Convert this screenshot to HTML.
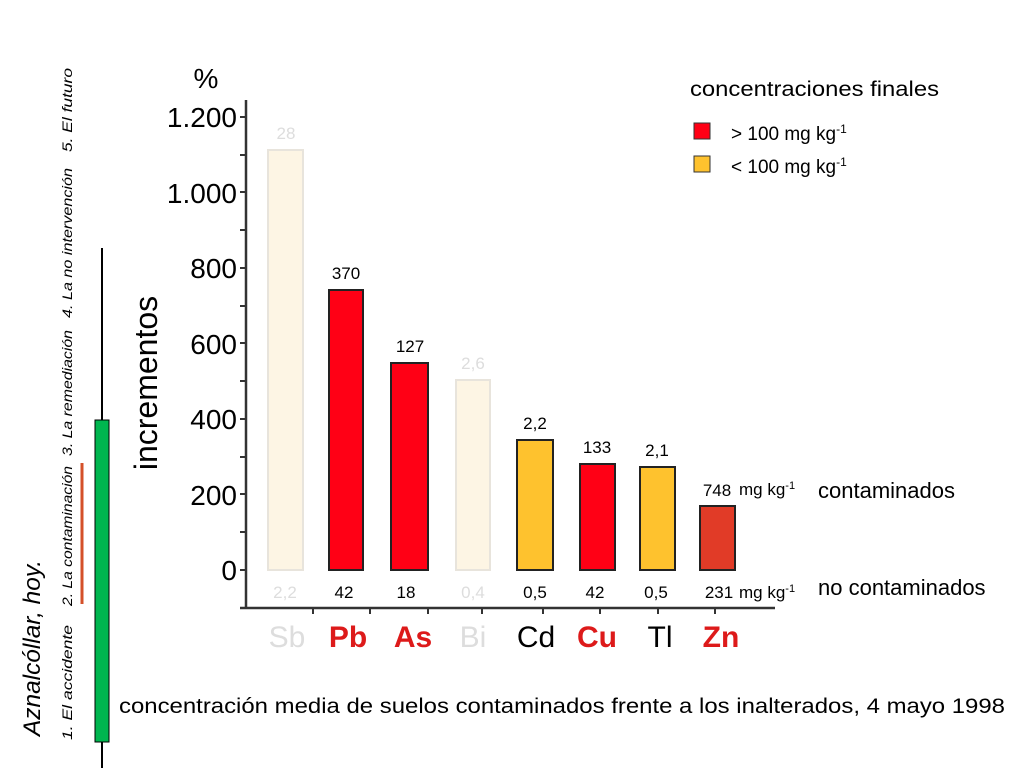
<!DOCTYPE html>
<html><head><meta charset="utf-8"><style>body{margin:0;background:#fff}svg{display:block}</style></head>
<body>
<svg width="1024" height="768" xmlns="http://www.w3.org/2000/svg" font-family="Liberation Sans, Arial, sans-serif">
<rect width="1024" height="768" fill="#fff"/>
<!-- side timeline -->
<line x1="102" y1="248" x2="102" y2="768" stroke="#000" stroke-width="2"/>
<rect x="95" y="420" width="14" height="322" fill="#00b64f" stroke="#000" stroke-width="1"/>
<line x1="82" y1="463" x2="82" y2="604" stroke="#d4502a" stroke-width="3"/>
<g font-style="italic" font-size="14" fill="#000">
<text transform="translate(72,740) rotate(-90)" textLength="115" lengthAdjust="spacingAndGlyphs">1. El accidente</text>
<text transform="translate(72,606) rotate(-90)" textLength="140" lengthAdjust="spacingAndGlyphs">2. La contaminación</text>
<text transform="translate(72,456) rotate(-90)" textLength="126" lengthAdjust="spacingAndGlyphs">3. La remediación</text>
<text transform="translate(72,318) rotate(-90)" textLength="150" lengthAdjust="spacingAndGlyphs">4. La no intervención</text>
<text transform="translate(72,152) rotate(-90)" textLength="84" lengthAdjust="spacingAndGlyphs">5. El futuro</text>
</g>
<text transform="translate(40,736) rotate(-90)" font-style="italic" font-size="24" textLength="176" lengthAdjust="spacingAndGlyphs">Aznalcóllar, hoy.</text>
<text transform="translate(157,383) rotate(-90)" font-size="32" text-anchor="middle">incrementos</text>
<text x="206" y="88" font-size="28" text-anchor="middle">%</text>
<!-- axes -->
<line x1="246" y1="100" x2="246" y2="609" stroke="#333" stroke-width="2.5"/>
<line x1="240" y1="608" x2="775" y2="608" stroke="#333" stroke-width="2.5"/>
<g stroke="#333" stroke-width="2">
<line x1="240" y1="117" x2="246" y2="117"/><line x1="240" y1="155" x2="246" y2="155"/>
<line x1="240" y1="192" x2="246" y2="192"/><line x1="240" y1="230" x2="246" y2="230"/>
<line x1="240" y1="268" x2="246" y2="268"/><line x1="240" y1="306" x2="246" y2="306"/>
<line x1="240" y1="343" x2="246" y2="343"/><line x1="240" y1="381" x2="246" y2="381"/>
<line x1="240" y1="419" x2="246" y2="419"/><line x1="240" y1="457" x2="246" y2="457"/>
<line x1="240" y1="494" x2="246" y2="494"/><line x1="240" y1="532" x2="246" y2="532"/>
<line x1="240" y1="570" x2="246" y2="570"/>
<line x1="313" y1="608" x2="313" y2="614"/><line x1="370" y1="608" x2="370" y2="614"/>
<line x1="428" y1="608" x2="428" y2="614"/><line x1="482" y1="608" x2="482" y2="614"/>
<line x1="543" y1="608" x2="543" y2="614"/><line x1="600" y1="608" x2="600" y2="614"/>
<line x1="658" y1="608" x2="658" y2="614"/><line x1="715" y1="608" x2="715" y2="614"/>
</g>
<g font-size="28" text-anchor="end">
<text x="237" y="127">1.200</text><text x="237" y="203">1.000</text>
<text x="237" y="278">800</text><text x="237" y="354">600</text>
<text x="237" y="429">400</text><text x="237" y="505">200</text>
<text x="237" y="580">0</text>
</g>
<!-- bars -->
<rect x="268" y="150" width="35" height="420" fill="#fdf5e4" stroke="#e8e4dc" stroke-width="2"/>
<rect x="329" y="290" width="34" height="280" fill="#ff0015" stroke="#222" stroke-width="2"/>
<rect x="391" y="363" width="37" height="207" fill="#ff0015" stroke="#222" stroke-width="2"/>
<rect x="456" y="380" width="34" height="190" fill="#fdf5e4" stroke="#e8e4dc" stroke-width="2"/>
<rect x="517" y="440" width="36" height="130" fill="#fec22e" stroke="#222" stroke-width="2"/>
<rect x="580" y="464" width="35" height="106" fill="#ff0015" stroke="#222" stroke-width="2"/>
<rect x="640" y="467" width="35" height="103" fill="#fec22e" stroke="#222" stroke-width="2"/>
<rect x="700" y="506" width="35" height="64" fill="#e13b27" stroke="#222" stroke-width="2"/>
<g font-size="17" text-anchor="middle">
<text x="286" y="139" fill="#ddd">28</text>
<text x="346" y="279">370</text>
<text x="410" y="352">127</text>
<text x="473" y="369" fill="#ddd">2,6</text>
<text x="535" y="429">2,2</text>
<text x="597" y="453">133</text>
<text x="657" y="456">2,1</text>
<text x="717" y="496">748</text>
<text x="285" y="598" fill="#ddd">2,2</text>
<text x="344" y="598">42</text>
<text x="406" y="598">18</text>
<text x="473" y="598" fill="#ddd">0,4</text>
<text x="535" y="598">0,5</text>
<text x="595" y="598">42</text>
<text x="656" y="598">0,5</text>
<text x="719" y="598">231</text>
</g>
<text x="739" y="495" font-size="17">mg kg<tspan font-size="11" dy="-6">-1</tspan></text>
<text x="739" y="598" font-size="17">mg kg<tspan font-size="11" dy="-6">-1</tspan></text>
<text x="818" y="498" font-size="22">contaminados</text>
<text x="818" y="595" font-size="22">no contaminados</text>
<g font-size="30" text-anchor="middle">
<text x="287" y="647" fill="#ddd">Sb</text>
<text x="348" y="647" fill="#dd1a1a" font-weight="bold">Pb</text>
<text x="413" y="647" fill="#dd1a1a" font-weight="bold">As</text>
<text x="473" y="647" fill="#ddd">Bi</text>
<text x="536" y="647">Cd</text>
<text x="597" y="647" fill="#dd1a1a" font-weight="bold">Cu</text>
<text x="660" y="647">Tl</text>
<text x="721" y="647" fill="#dd1a1a" font-weight="bold">Zn</text>
</g>
<text x="119" y="713" font-size="21" textLength="886" lengthAdjust="spacingAndGlyphs">concentración media de suelos contaminados frente a los inalterados, 4 mayo 1998</text>
<!-- legend -->
<text x="690" y="96" font-size="21" textLength="249" lengthAdjust="spacingAndGlyphs">concentraciones finales</text>
<rect x="694" y="123" width="16" height="16" fill="#ff0015" stroke="#333" stroke-width="1"/>
<rect x="694" y="156" width="16" height="16" fill="#fec22e" stroke="#333" stroke-width="1"/>
<text x="731" y="140" font-size="19">&gt; 100 mg kg<tspan font-size="12" dy="-7">-1</tspan></text>
<text x="731" y="173" font-size="19">&lt; 100 mg kg<tspan font-size="12" dy="-7">-1</tspan></text>
</svg>
</body></html>
